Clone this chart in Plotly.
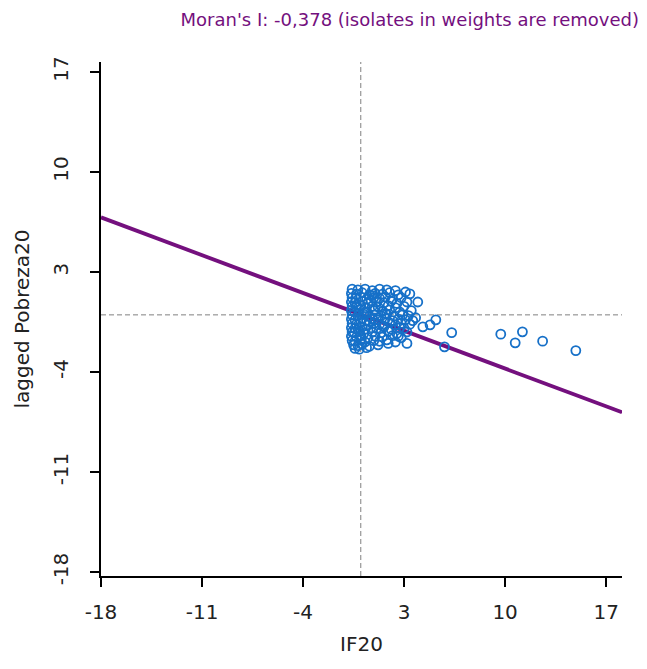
import plotly.graph_objects as go

# ---- data ----
x_ticks = [-18, -11, -4, 3, 10, 17]
y_ticks = [-18, -11, -4, 3, 10, 17]
moran_slope = -0.378
moran_intercept = 0.02

if20 = [
    -0.6, -0.2, 0.3, 0.8, 1.3, 1.8, 2.4, 3.1,
    -0.65, -0.3, 0.1, 0.6, 1.0, 1.5, 2.0, 2.6, 3.4,
    -0.6, -0.35, 0.0, 0.4, 0.9, 1.3, 1.7, 2.2, 2.8,
    -0.65, -0.4, 0.1, 0.5, 0.7, 1.1, 1.6, 2.1, 2.5, 3.2, 3.95,
    -0.6, -0.3, 0.0, 0.3, 0.8, 1.2, 1.9, 2.4, 3.0,
    -0.65, -0.45, -0.1, 0.4, 0.9, 1.5, 2.0, 2.7, 3.5,
    -0.6, -0.2, 0.2, 0.6, 1.0, 1.4, 1.8, 2.3, 2.9, 3.3, 3.8,
    -0.65, -0.4, 0.1, 0.4, 0.8, 1.2, 1.7, 2.2, 2.6, 3.1, 3.6,
    -0.6, -0.3, 0.0, 0.5, 0.9, 1.3, 2.0, 2.4, 2.8, 3.4,
    -0.65, -0.4, 0.1, 0.3, 0.7, 1.1, 1.6, 2.1, 2.7, 3.0,
    -0.6, -0.45, -0.1, 0.2, 0.8, 1.4, 1.9, 2.5, 3.2,
    -0.65, -0.3, 0.0, 0.5, 1.0, 1.5, 2.2, 2.8,
    -0.6, -0.4, 0.0, 0.3, 0.9, 1.3, 1.8, 2.4, 3.2,
    -0.5, -0.2, 0.1, 0.6, 1.2, 1.9,
    -0.4, -0.1, 0.4,
    0.25, 0.6, 1.0, -0.2, 1.5, 0.8, 0.05, 1.7, 2.6, -0.3,
    4.3, 4.8, 5.2, 5.8, 6.3, 9.7, 10.7, 11.2, 12.6, 14.9,
]
lag_pobreza20 = [
    1.8, 1.75, 1.8, 1.7, 1.8, 1.75, 1.7, 1.6,
    1.5, 1.45, 1.55, 1.4, 1.5, 1.45, 1.55, 1.4, 1.47,
    1.2, 1.15, 1.25, 1.1, 1.2, 1.15, 1.25, 1.1, 1.2,
    0.9, 0.85, 0.95, 0.8, 1.0, 0.9, 0.85, 0.95, 0.8, 0.9, 0.9,
    0.6, 0.55, 0.65, 0.5, 0.6, 0.55, 0.65, 0.5, 0.6,
    0.3, 0.25, 0.35, 0.2, 0.3, 0.25, 0.35, 0.2, 0.3,
    0.0, -0.05, 0.05, -0.1, 0.0, -0.05, 0.05, -0.1, 0.0, -0.05, -0.2,
    -0.3, -0.35, -0.25, -0.4, -0.3, -0.35, -0.25, -0.4, -0.3, -0.35, -0.4,
    -0.6, -0.65, -0.55, -0.7, -0.6, -0.65, -0.55, -0.7, -0.6, -0.65,
    -0.9, -0.95, -0.85, -1.0, -0.9, -0.95, -0.85, -1.0, -0.9, -0.95,
    -1.2, -1.25, -1.15, -1.3, -1.2, -1.25, -1.15, -1.3, -1.2,
    -1.5, -1.55, -1.45, -1.6, -1.5, -1.55, -1.45, -1.6,
    -1.8, -1.85, -1.75, -1.9, -1.8, -1.85, -1.75, -1.9, -2.0,
    -2.1, -2.15, -2.05, -2.2, -2.1, -2.0,
    -2.35, -2.4, -2.3,
    0.15, -0.45, 0.4, -1.0, -0.75, 1.35, -1.65, 0.1, -1.5, 0.7,
    -0.84, -0.7, -0.35, -2.24, -1.24, -1.35, -1.96, -1.19, -1.84, -2.5,
]

x_range = [-18.0, 18.1]
y_range = [-18.28, 17.7]

purple = "#74107E"
blue = "#1670C8"
text_color = "#222222"
font_family = "DejaVu Sans, Verdana, sans-serif"

line_x = x_range
line_y = [moran_intercept + moran_slope * v for v in line_x]

fig = go.Figure()
fig.add_trace(go.Scatter(
    x=line_x, y=line_y, mode="lines",
    line=dict(color=purple, width=3.8), hoverinfo="skip", showlegend=False,
))
fig.add_trace(go.Scatter(
    x=if20, y=lag_pobreza20, mode="markers",
    marker=dict(symbol="circle-open", size=9, color=blue, line=dict(width=1.8, color=blue)),
    showlegend=False,
))

fig.add_shape(type="line", xref="x", yref="paper", x0=0, x1=0, y0=0, y1=1,
              line=dict(color="#808080", width=1, dash="5px,3px"), layer="below")
fig.add_shape(type="line", xref="paper", yref="y", x0=0, x1=1, y0=0, y1=0,
              line=dict(color="#808080", width=1, dash="5px,3px"), layer="below")

axis_common = dict(
    showgrid=False, zeroline=False, showline=True, linecolor="black", linewidth=1.5,
    ticks="outside", ticklen=9, tickwidth=1.5, tickcolor="black",
    tickfont=dict(family=font_family, size=20, color=text_color),
    title_font=dict(family=font_family, size=20, color=text_color),
)

fig.update_layout(
    width=647, height=669,
    margin=dict(l=93, r=33, t=54, b=101),
    paper_bgcolor="white", plot_bgcolor="white",
    title=dict(
        text="Moran's I: -0,378 (isolates in weights are removed)",
        x=0.621, xanchor="center", xref="container", y=0.982, yanchor="middle", yref="container",
        font=dict(family=font_family, size=18, color=purple),
    ),
    xaxis=dict(range=x_range, tickvals=x_ticks, ticktext=[str(v) for v in x_ticks],
               ticklabelstandoff=8,
               title=dict(text="IF20", standoff=14), **axis_common),
    yaxis=dict(range=y_range, tickvals=y_ticks, ticktext=[str(v) for v in y_ticks],
               tickangle=-90, ticklabelstandoff=14,
               title=dict(text="lagged Pobreza20", standoff=14), **axis_common),
)

fig.write_html("out.html")
